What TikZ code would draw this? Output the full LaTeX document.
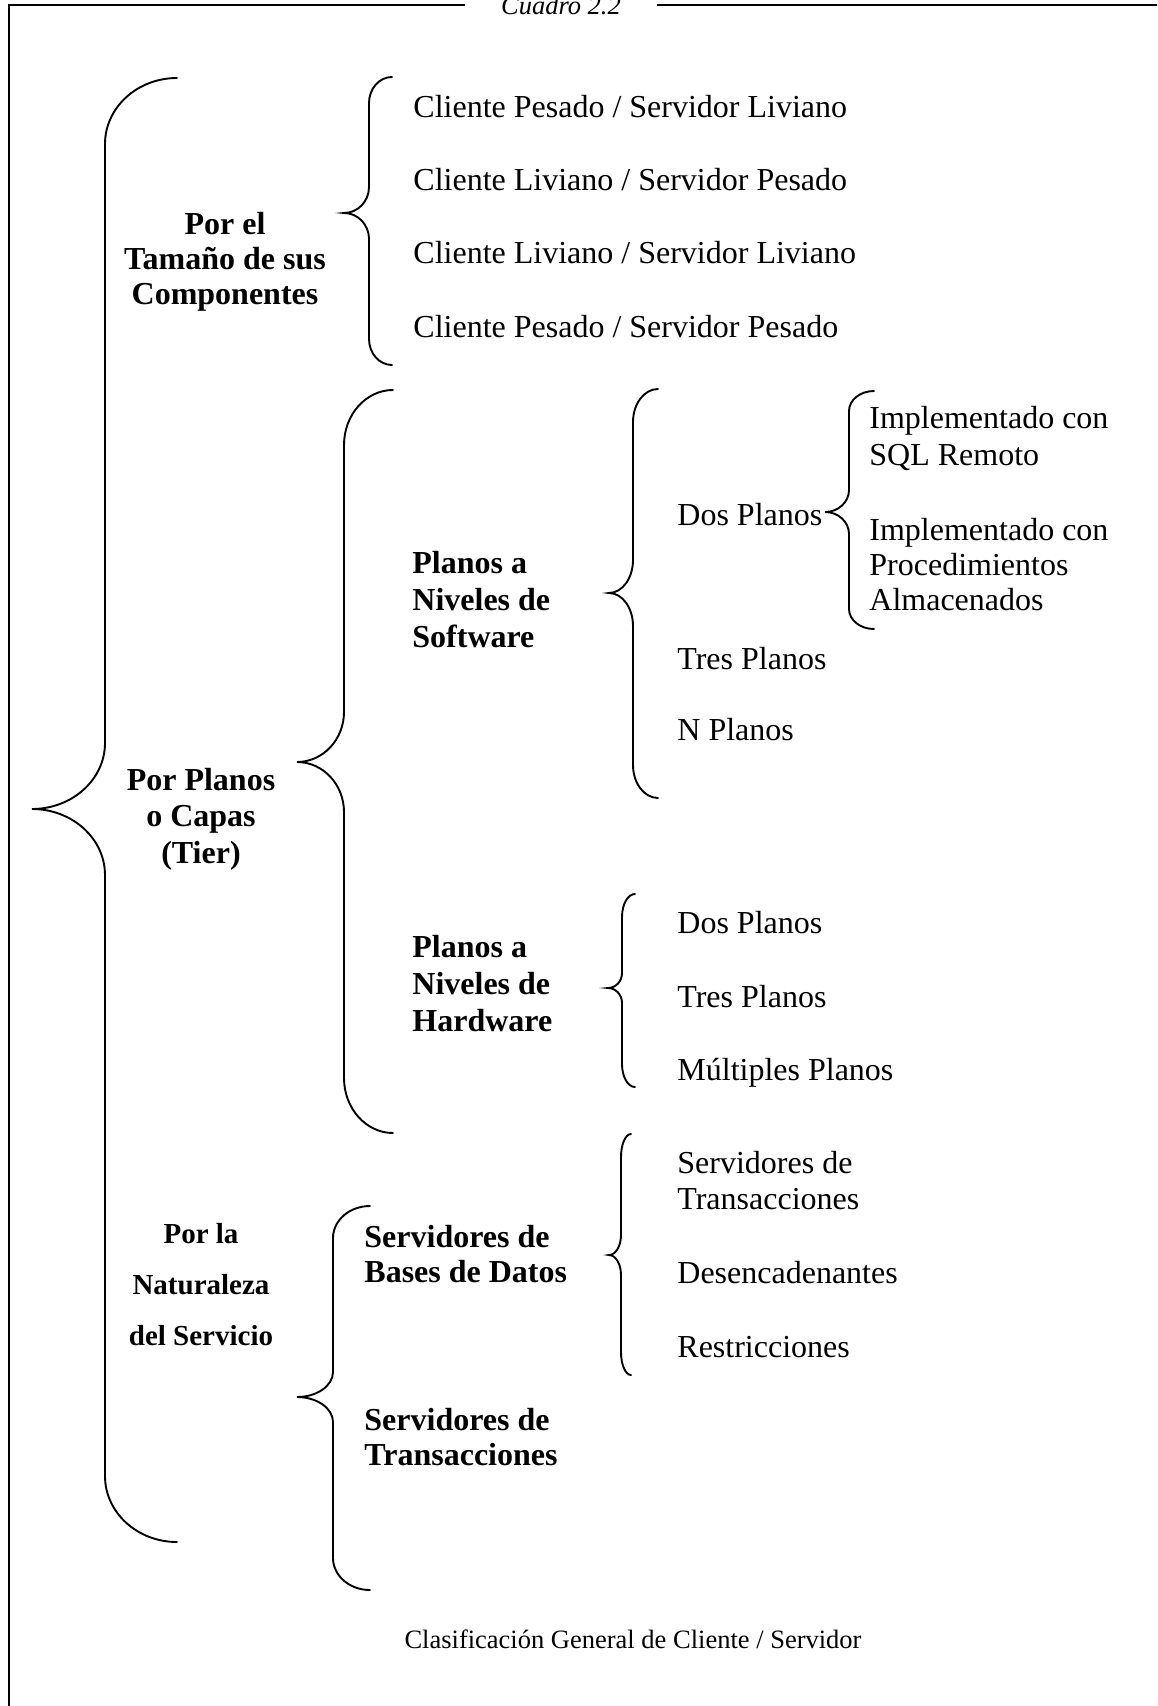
\documentclass[tikz,border=0pt]{standalone}
\usepackage{fontspec}
\setmainfont{Liberation Serif}

% multi-line text blocks whose baseline is the baseline of the first line
\newcommand\stackc[2]{\vtop{\baselineskip=#1\lineskiplimit=-20pt\lineskip=0pt\halign{\hfil##\hfil\cr#2\crcr}}}
\newcommand\stackl[2]{\vtop{\baselineskip=#1\lineskiplimit=-20pt\lineskip=0pt\halign{##\hfil\cr#2\crcr}}}

% curly brace opening to the right:
% #1 end x, #2 stem x, #3 tip x, #4 top y, #5 tip y, #6 bottom y,
% #7 height of the end curls, #8 height of the tip curls
\newcommand\clbrace[8]{%
  \draw[brc] (#1,#4)
    .. controls ({#1-0.552*(#1-#2)},#4) and (#2,{#4+0.448*#7}) .. (#2,{#4+#7})
    -- (#2,{#5-#8})
    .. controls (#2,{#5-0.448*#8}) and ({#3+0.552*(#2-#3)},#5) .. (#3,#5)
    .. controls ({#3+0.552*(#2-#3)},#5) and (#2,{#5+0.448*#8}) .. (#2,{#5+#8})
    -- (#2,{#6-#7})
    .. controls (#2,{#6-0.448*#7}) and ({#1-0.552*(#1-#2)},#6) .. (#1,#6);}

\tikzset{
  brc/.style={line width=0.95pt, line cap=round},
  frame/.style={line width=1.1pt},
  item/.style={anchor=base west, inner sep=0pt, font=\fontsize{16}{18}\selectfont},
  lab/.style={anchor=base west, inner sep=0pt, font=\fontsize{16}{18}\selectfont\bfseries},
  clab/.style={anchor=base, inner sep=0pt, font=\fontsize{16}{18}\selectfont\bfseries},
  capt/.style={anchor=base, inner sep=0pt, font=\fontsize{13.25}{16}\selectfont},
}

\begin{document}
\begin{tikzpicture}[x=0.5pt, y=-0.5pt]
\useasboundingbox (0,0) rectangle (1157,1706);
\clip (0,0) rectangle (1157,1706);

% surrounding frame with its caption in the top edge
\draw[frame] (465,5) -- (9,5) -- (9,1720);
\draw[frame] (657,5) -- (1175,5);
\node[capt, font=\fontsize{13.25}{16}\selectfont\itshape] (titulo) at (561,15) {Cuadro 2.2};

% braces
\clbrace{177}{105}{32}{78}{809}{1542}{66}{66}
\clbrace{392}{369}{344}{77}{213}{365}{26}{26}
\clbrace{393}{344}{297}{390}{762}{1133}{55}{50}
\clbrace{370}{333}{297}{1206}{1397}{1590}{32}{25}
\clbrace{658}{633}{609}{389}{593}{798}{33}{33}
\clbrace{635}{622}{608}{894}{988}{1087}{23}{15}
\clbrace{631}{621}{609}{1134}{1255}{1375}{23}{20}
\clbrace{874}{849}{825}{391}{512}{629}{20}{22}

% first level
\node[clab] (tam) at (225,235) {\stackc{17.5pt}{Por el\cr Tamaño de sus\cr Componentes}};
\node[clab] (planos) at (201,790) {\stackc{18.25pt}{Por Planos\cr o Capas\cr (Tier)}};
\node[clab, font=\fontsize{14.5}{17}\selectfont\bfseries] (natur) at (201,1243)
  {\stackc{25.5pt}{Por la\cr Naturaleza\cr del Servicio}};

% size of the components
\node[item] (cpsl) at (413,118) {Cliente Pesado / Servidor Liviano};
\node[item] (clsp) at (413,191) {Cliente Liviano / Servidor Pesado};
\node[item] (clsl) at (413,264) {Cliente Liviano / Servidor Liviano};
\node[item] (cpsp) at (413,337) {Cliente Pesado / Servidor Pesado};

% software tiers
\node[lab] (soft) at (412,573) {\stackl{18.5pt}{Planos a\cr Niveles de\cr Software}};
\node[item] (sdos) at (677,525) {Dos Planos};
\node[item] (stres) at (677,669) {Tres Planos};
\node[item] (sn) at (677,740) {N Planos};
\node[item] (sql) at (869,428) {\stackl{18.5pt}{Implementado con\cr SQL Remoto}};
\node[item] (proc) at (869,540) {\stackl{17.5pt}{Implementado con\cr Procedimientos\cr Almacenados}};

% hardware tiers
\node[lab] (hard) at (412,957) {\stackl{18.5pt}{Planos a\cr Niveles de\cr Hardware}};
\node[item] (hdos) at (677,933) {Dos Planos};
\node[item] (htres) at (677,1007) {Tres Planos};
\node[item] (hmult) at (677,1080) {Múltiples Planos};

% nature of the service
\node[lab] (bd) at (364,1247) {\stackl{17.5pt}{Servidores de\cr Bases de Datos}};
\node[lab] (tx) at (364,1430) {\stackl{17.5pt}{Servidores de\cr Transacciones}};
\node[item] (bdtx) at (677,1173) {\stackl{18pt}{Servidores de\cr Transacciones}};
\node[item] (des) at (677,1283) {Desencadenantes};
\node[item] (res) at (677,1357) {Restricciones};

% caption
\node[capt] (pie) at (633,1648) {Clasificación General de Cliente / Servidor};
\end{tikzpicture}
\end{document}
